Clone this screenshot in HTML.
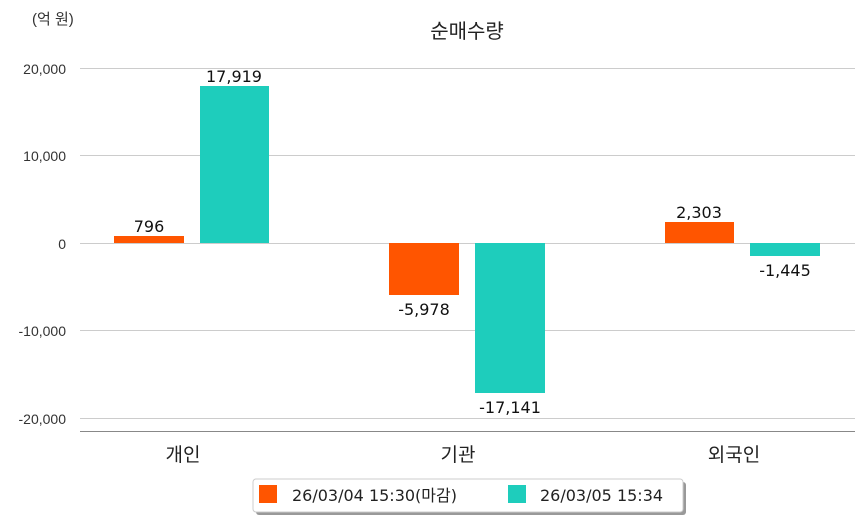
<!DOCTYPE html>
<html><head><meta charset="utf-8"><style>
html,body{margin:0;padding:0;background:#fff;}
svg{display:block;font-family:"Liberation Sans","Noto Sans CJK KR",sans-serif;}
.dv{font-family:"DejaVu Sans","Noto Sans CJK KR",sans-serif;}
</style></head><body>
<svg width="863" height="520" xmlns="http://www.w3.org/2000/svg">
<text x="32" y="24" font-size="15" fill="#333">(억 원)</text>
<text x="467" y="38" font-size="20" fill="#222" text-anchor="middle">순매수량</text>
<g stroke="#cccccc" stroke-width="1">
<line x1="80" y1="68.5" x2="855" y2="68.5"/>
<line x1="80" y1="155.5" x2="855" y2="155.5"/>
<line x1="80" y1="243.5" x2="855" y2="243.5"/>
<line x1="80" y1="330.5" x2="855" y2="330.5"/>
<line x1="80" y1="418.5" x2="855" y2="418.5"/>
</g>
<line x1="80" y1="431.5" x2="855" y2="431.5" stroke="#888" stroke-width="1"/>
<g font-size="14" fill="#333" text-anchor="end">
<text x="66" y="74">20,000</text>
<text x="66" y="161">10,000</text>
<text x="66" y="249">0</text>
<text x="66" y="336">-10,000</text>
<text x="66" y="424">-20,000</text>
</g>
<g fill="#ff5500">
<rect x="114" y="236" width="70" height="7"/>
<rect x="389" y="243" width="70" height="52"/>
<rect x="665" y="222" width="69" height="21"/>
</g>
<g fill="#1ecdbc">
<rect x="200" y="86" width="69" height="157"/>
<rect x="475" y="243" width="70" height="150"/>
<rect x="750" y="243" width="70" height="13"/>
</g>
<g class="dv" font-size="16" fill="#111" text-anchor="middle">
<text x="149" y="232">796</text>
<text x="234" y="82">17,919</text>
<text x="424" y="315">-5,978</text>
<text x="510" y="413">-17,141</text>
<text x="699" y="218">2,303</text>
<text x="785" y="276">-1,445</text>
</g>
<g font-size="19" fill="#222" text-anchor="middle">
<text x="183" y="461">개인</text>
<text x="458" y="461">기관</text>
<text x="734" y="461">외국인</text>
</g>
<rect x="256" y="482" width="430" height="33" rx="3" fill="#999"/>
<rect x="253" y="479" width="430" height="33" rx="3" fill="#fff" stroke="#ccc"/>
<rect x="259" y="485" width="18" height="18" fill="#ff5500"/>
<rect x="508" y="485" width="18" height="18" fill="#1ecdbc"/>
<g class="dv" font-size="16" fill="#222">
<text x="292" y="501">26/03/04 15:30(마감)</text>
<text x="540" y="501">26/03/05 15:34</text>
</g>
</svg>
</body></html>
